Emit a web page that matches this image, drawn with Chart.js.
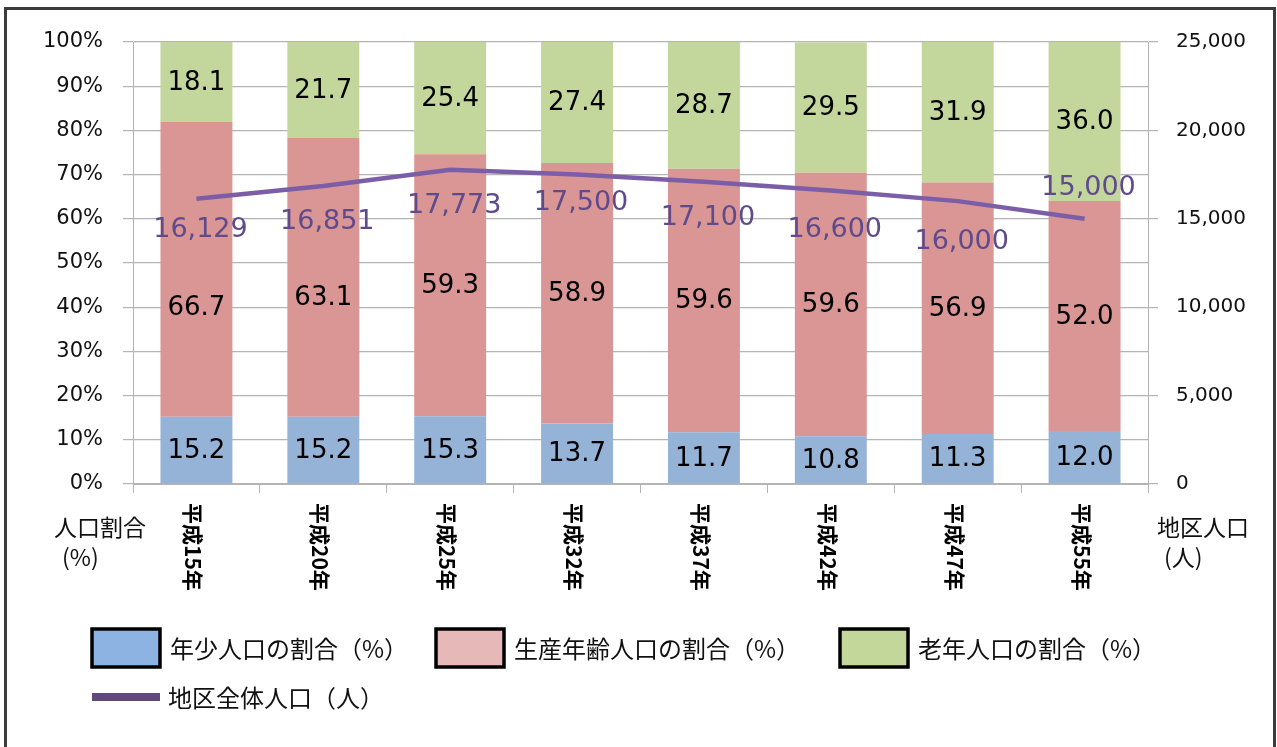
<!DOCTYPE html>
<html>
<head>
<meta charset="utf-8">
<script src="https://cdn.jsdelivr.net/npm/chart.js@4/dist/chart.umd.min.js"></script>
<style>
  html, body { margin: 0; padding: 0; background: #fff; overflow: hidden; }
  #frame { position: absolute; left: 4px; top: 7px; width: 1266px; height: 800px; border: 3px solid #3c3c3c; }
  #chart { position: absolute; left: 0; top: 0; }
</style>
</head>
<body>
<div id="frame"></div>
<canvas id="chart" width="1277" height="747"></canvas>
<script>
// categories and series
const categories = ['平成15年', '平成20年', '平成25年', '平成32年', '平成37年', '平成42年', '平成47年', '平成55年'];
const youngShare = [15.2, 15.2, 15.3, 13.7, 11.7, 10.8, 11.3, 12.0];
const workingShare = [66.7, 63.1, 59.3, 58.9, 59.6, 59.6, 56.9, 52.0];
const elderlyShare = [18.1, 21.7, 25.4, 27.4, 28.7, 29.5, 31.9, 36.0];
const districtPopulation = [16129, 16851, 17773, 17500, 17100, 16600, 16000, 15000];

// axis ranges
const shareMax = 100, shareStep = 10;
const popMax = 25000, popStep = 5000;

// label nudges (pixels), like the hand-moved labels in the original
const workingLabelDy = [38, 20, 0, 0, 0, 0, 0, 0];
const popLabelDy = [31, 36, 36, 28, 36, 39, 41, -31];

const NUM_FONT = '"DejaVu Sans", Verdana, sans-serif';
const JP_FONT = '"Noto Sans CJK JP", "Noto Sans", sans-serif';

// Draw labels, axis titles and legend
const extrasPlugin = {
  id: 'extras',
  afterDatasetsDraw(chart) {
    const ctx = chart.ctx;
    ctx.save();
    ctx.textAlign = 'center';
    ctx.textBaseline = 'middle';

    // bar segment labels
    ctx.font = '26px ' + NUM_FONT;
    ctx.fillStyle = '#000';
    [0, 1, 2].forEach(di => {
      const meta = chart.getDatasetMeta(di);
      meta.data.forEach((bar, i) => {
        const v = chart.data.datasets[di].data[i];
        let y = (bar.y + bar.base) / 2;
        if (di === 1) y += workingLabelDy[i];
        ctx.fillText(v.toFixed(1), bar.x, y + 1);
      });
    });

    // population labels
    ctx.font = '27px ' + NUM_FONT;
    ctx.fillStyle = '#5f4a8b';
    chart.getDatasetMeta(3).data.forEach((pt, i) => {
      ctx.fillText(districtPopulation[i].toLocaleString('en-US'), pt.x + 4, pt.y + popLabelDy[i]);
    });
    ctx.restore();
  },
  afterDraw(chart) {
    const ctx = chart.ctx;
    const x = chart.scales.x;
    ctx.save();

    // rotated category labels (reading top to bottom)
    ctx.font = 'bold 21px ' + JP_FONT;
    ctx.fillStyle = '#000';
    ctx.textAlign = 'left';
    ctx.textBaseline = 'middle';
    categories.forEach((c, i) => {
      const cx = x.getPixelForValue(i);
      ctx.save();
      ctx.translate(cx - 3, 503);
      ctx.rotate(Math.PI / 2);
      ctx.fillText(c, 0, 0);
      ctx.restore();
    });

    // axis titles
    ctx.font = '23px ' + JP_FONT;
    ctx.fillStyle = '#111';
    ctx.fillText('人口割合', 54, 527);
    ctx.fillText('(%)', 62, 557);
    ctx.fillText('地区人口', 1157, 527);
    ctx.fillText('(人)', 1164, 557);

    // legend
    const ds = chart.data.datasets;
    const items = [
      { ds: ds[0], x: 92, y: 648 },
      { ds: ds[1], x: 436, y: 648 },
      { ds: ds[2], x: 840, y: 648 },
      { ds: ds[3], x: 92, y: 697, line: true }
    ];
    ctx.font = '24px ' + JP_FONT;
    items.forEach(it => {
      if (it.line) {
        ctx.fillStyle = it.ds.legendColor;
        ctx.fillRect(it.x, it.y - 4, 68, 8);
        ctx.fillStyle = '#111';
        ctx.fillText(it.ds.label, it.x + 76, it.y + 1);
      } else {
        ctx.fillStyle = it.ds.legendColor;
        ctx.fillRect(it.x, it.y - 19, 68, 38);
        ctx.lineWidth = 3.5;
        ctx.strokeStyle = '#000';
        ctx.strokeRect(it.x, it.y - 19, 68, 38);
        ctx.fillStyle = '#111';
        ctx.fillText(it.ds.label, it.x + 78, it.y + 1);
      }
    });
    ctx.restore();
  }
};

const gridColor = '#b4b4b4';

new Chart(document.getElementById('chart'), {
  type: 'bar',
  data: {
    labels: categories,
    datasets: [
      { label: '年少人口の割合（%）', data: youngShare, backgroundColor: '#95b3d7', legendColor: '#8db3e2', yAxisID: 'y', order: 1 },
      { label: '生産年齢人口の割合（%）', data: workingShare, backgroundColor: '#d99694', legendColor: '#e6b9b8', yAxisID: 'y', order: 1 },
      { label: '老年人口の割合（%）', data: elderlyShare, backgroundColor: '#c3d69b', legendColor: '#c4d79b', yAxisID: 'y', order: 1 },
      { type: 'line', label: '地区全体人口（人）', data: districtPopulation, borderColor: '#7b5ea7', legendColor: '#604a7b',
        borderWidth: 4.5, pointRadius: 0, tension: 0, yAxisID: 'y1', order: 0 }
    ]
  },
  options: {
    responsive: false,
    animation: false,
    datasets: { bar: { categoryPercentage: 1, barPercentage: 0.567 } },
    layout: { padding: { top: 42, left: 0, right: 0, bottom: 0 } },
    plugins: { legend: { display: false }, tooltip: { enabled: false } },
    scales: {
      x: {
        stacked: true,
        ticks: { display: false },
        grid: { display: true, drawOnChartArea: false, drawTicks: true, tickLength: 9, color: gridColor, offset: true },
        border: { color: gridColor },
        afterFit(s) { s.height = 263; }
      },
      y: {
        stacked: true,
        min: 0, max: shareMax,
        ticks: { stepSize: shareStep, padding: 20, color: '#111', font: { family: NUM_FONT, size: 21 },
          callback: v => v + '%' },
        grid: { color: gridColor, lineWidth: 1.2, tickLength: 10 },
        border: { color: gridColor },
        afterFit(s) { s.width = 133; }
      },
      y1: {
        position: 'right',
        min: 0, max: popMax,
        ticks: { stepSize: popStep, padding: 18, color: '#111', font: { family: NUM_FONT, size: 20 },
          callback: v => v.toLocaleString('en-US') },
        grid: { drawOnChartArea: false, color: gridColor, lineWidth: 1.2, tickLength: 10 },
        border: { color: gridColor },
        afterFit(s) { s.width = 129; }
      }
    }
  },
  plugins: [extrasPlugin]
});
</script>
</body>
</html>
